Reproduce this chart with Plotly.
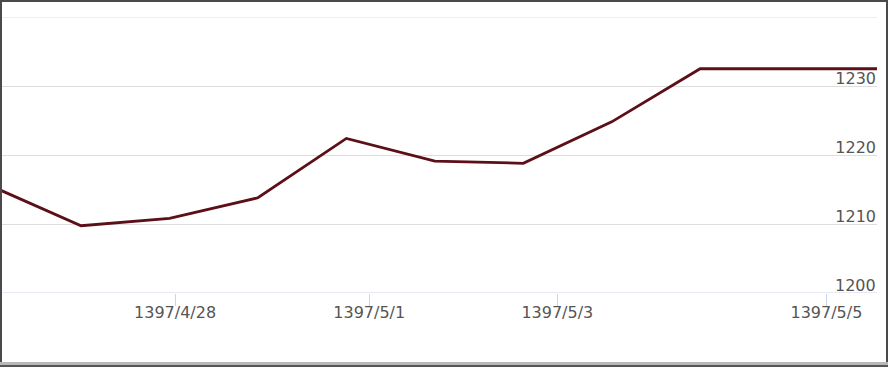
import plotly.graph_objects as go

# Data
point_index = [0, 1, 2, 3, 4, 5, 6, 7, 8, 9, 10]
prices = [1215.4, 1209.75, 1210.8, 1213.8, 1222.4, 1219.1, 1218.8, 1224.8, 1232.5, 1232.5, 1232.5]
tick_labels = ["1397/4/28", "1397/5/1", "1397/5/3", "1397/5/5"]
tick_positions = [2.063, 4.258, 6.385, 9.428]
y_ticks = [1200, 1210, 1220, 1230, 1240]
y_tick_labels = ["1200", "1210", "1220", "1230", ""]

W, H = 891, 367
L, R, T, B = 2, 14, 17, 74
pw = W - L - R
ph = H - T - B


def px(x):
    return (x - L) / pw


def py(y):
    return (H - B - y) / ph


fig = go.Figure()
fig.add_trace(go.Scatter(
    x=point_index, y=prices, mode="lines",
    line=dict(color="#5c0f17", width=2.8),
    hoverinfo="skip", showlegend=False,
))

font = dict(family="DejaVu Sans", size=16, color="#555555")

fig.update_layout(
    width=W, height=H,
    margin=dict(l=L, r=R, t=T, b=B, pad=0),
    paper_bgcolor="white", plot_bgcolor="white",
    showlegend=False,
    xaxis=dict(
        range=[0.106, 10.0],
        tickmode="array", tickvals=tick_positions, ticktext=tick_labels,
        showgrid=False, zeroline=False,
        showline=False,
        ticks="outside", ticklen=12, tickcolor="#ccd6eb", tickwidth=1,
        ticklabelstandoff=-7,
        tickfont=font, automargin=False, fixedrange=True,
    ),
    yaxis=dict(
        range=[1200, 1240], side="right",
        tickmode="array", tickvals=y_ticks, ticktext=y_tick_labels,
        ticklabelposition="inside", ticklabelshift=-8, ticklabelstandoff=-2,
        showgrid=True, gridcolor="#dedede", gridwidth=1,
        zeroline=False, showline=False, ticks="",
        tickfont=font, automargin=False, fixedrange=True,
    ),
)

# Bottom tick label (plotly hides inside labels touching the plot edge)
fig.add_annotation(xref="paper", yref="y", x=1, y=y_ticks[0], text=y_tick_labels[0],
                   xanchor="right", yanchor="middle", showarrow=False,
                   xshift=1, yshift=8, font=font)

# top gridline (1240) and blue-grey x axis line (1200)
fig.add_shape(type="line", xref="paper", yref="y", x0=0, x1=1, y0=y_ticks[-1], y1=y_ticks[-1],
              line=dict(color="#dedede", width=1), layer="below")
fig.add_shape(type="line", xref="paper", yref="y", x0=0, x1=1, y0=y_ticks[0], y1=y_ticks[0],
              line=dict(color="#ccd6eb", width=1.2), layer="above")

border = "#4a4a4a"
shapes = [
    dict(x0=px(0), x1=px(2), y0=py(0), y1=py(H)),
    dict(x0=px(0), x1=px(888), y0=py(0), y1=py(2)),
    dict(x0=px(886), x1=px(888), y0=py(0), y1=py(H)),
]
for s in shapes:
    fig.add_shape(type="rect", xref="paper", yref="paper", line_width=0,
                  fillcolor=border, layer="above", **s)
fig.add_shape(type="rect", xref="paper", yref="paper", line_width=0,
              fillcolor="#b8b8b8", layer="above",
              x0=px(0), x1=px(888), y0=py(365), y1=py(362))
fig.add_shape(type="rect", xref="paper", yref="paper", line_width=0,
              fillcolor="#555555", layer="above",
              x0=px(0), x1=px(888), y0=py(367), y1=py(365))

fig.write_html("out.html", config={"displayModeBar": False})
